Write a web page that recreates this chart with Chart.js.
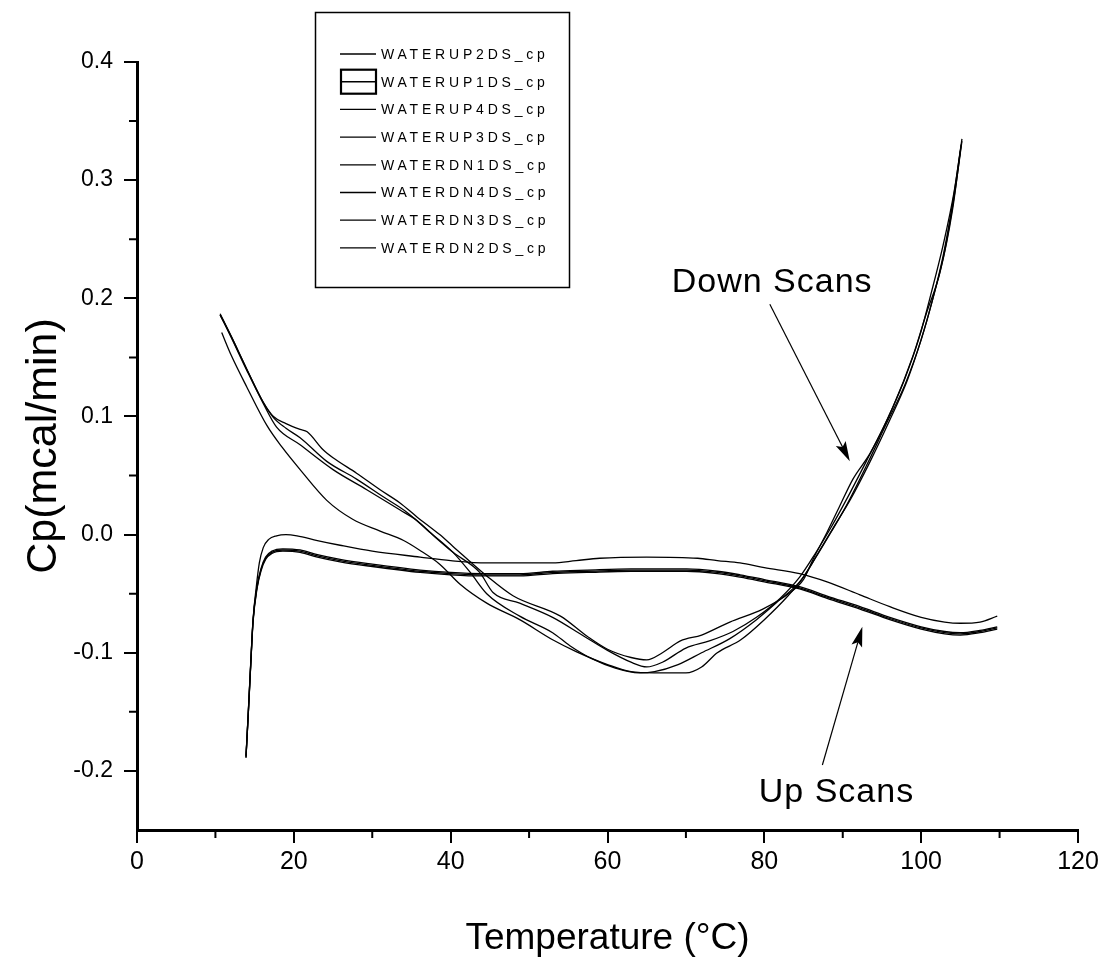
<!DOCTYPE html>
<html>
<head>
<meta charset="utf-8">
<script src="https://cdn.jsdelivr.net/npm/chart.js@4/dist/chart.umd.min.js"></script>
<style>
  html, body { margin: 0; padding: 0; background: #fff; }
  #wrap { width: 1107px; height: 965px; position: relative; }
</style>
</head>
<body>
<div id="wrap"><canvas id="cpChart"></canvas></div>
<script>
(function () {
    'use strict';

    // tick values
    var xMajor = [0, 20, 40, 60, 80, 100, 120];
    var xMinor = [10, 30, 50, 70, 90, 110];
    var yMajor = [-0.2, -0.1, 0.0, 0.1, 0.2, 0.3, 0.4];
    var yMinor = [-0.15, -0.05, 0.05, 0.15, 0.25, 0.35];

    // series, [temperature, Cp]
    var up1 = [[13.9,-0.189],[14.2,-0.150],[14.5,-0.110],[14.8,-0.072],[15.2,-0.045],[15.6,-0.024],[16.1,-0.011],[16.8,-0.004],[17.8,-0.001],[19,0.000],[20.4,-0.001],[23,-0.005],[25.9,-0.009],[30,-0.014],[36.1,-0.019],[40,-0.022],[44.6,-0.024],[48,-0.024],[53,-0.024],[56,-0.022],[59,-0.020],[65,-0.019],[71.5,-0.020],[74,-0.022],[76.9,-0.024],[80,-0.028],[84.5,-0.033],[88,-0.040],[92.2,-0.051],[96,-0.061],[100,-0.070],[103,-0.074],[105,-0.075],[107.5,-0.074],[109.7,-0.069]];
    var up2 = [[13.9,-0.188],[14.2,-0.150],[14.5,-0.110],[14.8,-0.073],[15.3,-0.045],[15.8,-0.030],[16.4,-0.020],[17.2,-0.015],[18.6,-0.013],[20.8,-0.014],[23,-0.018],[25.9,-0.022],[30,-0.026],[36.1,-0.031],[40,-0.033],[44,-0.034],[48.8,-0.034],[53,-0.032],[57.4,-0.031],[63,-0.030],[70.1,-0.030],[74,-0.032],[76.9,-0.035],[80,-0.039],[84.5,-0.045],[88,-0.053],[92.2,-0.062],[96,-0.071],[100,-0.079],[103,-0.083],[105,-0.084],[107.5,-0.082],[109.7,-0.079]];
    var up3 = [[13.9,-0.187],[14.2,-0.149],[14.5,-0.109],[14.8,-0.072],[15.3,-0.044],[15.8,-0.029],[16.4,-0.019],[17.2,-0.014],[18.6,-0.012],[20.8,-0.013],[23,-0.017],[25.9,-0.021],[30,-0.025],[36.1,-0.030],[40,-0.032],[44,-0.033],[48.8,-0.033],[53,-0.031],[57.4,-0.030],[63,-0.029],[70.1,-0.029],[74,-0.031],[76.9,-0.034],[80,-0.038],[84.5,-0.044],[88,-0.052],[92.2,-0.061],[96,-0.070],[100,-0.078],[103,-0.082],[105,-0.083],[107.5,-0.081],[109.7,-0.078]];
    var up4 = [[13.9,-0.188],[14.2,-0.151],[14.5,-0.111],[14.8,-0.074],[15.3,-0.046],[15.8,-0.031],[16.4,-0.021],[17.2,-0.016],[18.6,-0.014],[20.8,-0.015],[23,-0.019],[25.9,-0.023],[30,-0.027],[36.1,-0.032],[40,-0.034],[44,-0.035],[48.8,-0.035],[53,-0.033],[57.4,-0.032],[63,-0.031],[70.1,-0.031],[74,-0.033],[76.9,-0.036],[80,-0.040],[84.5,-0.046],[88,-0.054],[92.2,-0.063],[96,-0.072],[100,-0.080],[103,-0.084],[105,-0.085],[107.5,-0.083],[109.7,-0.080]];

    var dn1 = [[10.8,0.171],[12,0.152],[14,0.125],[16.6,0.092],[18.5,0.074],[20.8,0.055],[24.2,0.029],[27.5,0.013],[31,0.003],[34,-0.005],[36,-0.013],[38.6,-0.025],[41.2,-0.042],[44.6,-0.058],[48.8,-0.072],[53,-0.089],[56,-0.099],[60,-0.110],[63,-0.116],[66,-0.117],[70,-0.117],[72,-0.112],[74,-0.100],[77,-0.089],[80,-0.072],[83,-0.052],[85,-0.036],[87,-0.014],[89,0.008],[91,0.030],[93.5,0.062],[96,0.097],[98.2,0.130],[100,0.165],[101.5,0.200],[102.8,0.236],[104,0.280],[105,0.325]];
    var dn2 = [[10.6,0.186],[12,0.168],[14,0.140],[16.1,0.112],[17.4,0.099],[19,0.090],[20.8,0.082],[24.2,0.062],[28,0.047],[31.4,0.032],[34.4,0.019],[37,0.004],[40.3,-0.015],[42.5,-0.032],[44.6,-0.050],[48.8,-0.069],[53,-0.083],[55.2,-0.094],[58,-0.105],[61,-0.113],[64,-0.117],[66,-0.116],[69,-0.110],[72,-0.100],[75.6,-0.088],[79,-0.072],[82,-0.055],[84.5,-0.040],[86.5,-0.020],[88.5,0.002],[90.5,0.025],[93,0.058],[95.5,0.093],[98,0.128],[100,0.165],[101.5,0.200],[103,0.240],[104.3,0.290],[105.2,0.333]];
    var dn3 = [[10.6,0.187],[12,0.168],[14,0.140],[16.1,0.112],[17.4,0.100],[19,0.094],[20.8,0.089],[21.7,0.087],[23.7,0.072],[25,0.065],[28,0.052],[31,0.038],[33.5,0.027],[35.7,0.015],[38.6,0.000],[40.3,-0.010],[44.6,-0.035],[48,-0.052],[54,-0.069],[57.4,-0.086],[60,-0.097],[63,-0.104],[65,-0.106],[67,-0.100],[69.3,-0.090],[72,-0.085],[75.6,-0.074],[79.8,-0.063],[83.3,-0.049],[85,-0.038],[86.2,-0.021],[88,0.002],[89.6,0.024],[91.3,0.047],[93.5,0.069],[96.4,0.108],[99,0.152],[100.7,0.188],[102.4,0.222],[104,0.275],[105.2,0.335]];
    var dn4 = [[10.6,0.186],[12,0.167],[14,0.139],[16.1,0.111],[17.8,0.091],[20.8,0.076],[25,0.055],[29.3,0.038],[33.5,0.021],[35.7,0.012],[38,-0.002],[40.3,-0.015],[43.7,-0.032],[45.4,-0.049],[48.8,-0.058],[53,-0.070],[57,-0.086],[60,-0.098],[63,-0.108],[65,-0.112],[67,-0.108],[70,-0.096],[73,-0.090],[76,-0.082],[79,-0.070],[82,-0.054],[84.5,-0.036],[86.5,-0.016],[88.5,0.006],[90.5,0.030],[93,0.062],[95.5,0.095],[97.8,0.130],[99.8,0.168],[101.3,0.205],[102.8,0.245],[104.2,0.290],[105.1,0.330]];

    var seriesNames = ['WATERUP2DS_cp', 'WATERUP1DS_cp', 'WATERUP4DS_cp', 'WATERUP3DS_cp',
                       'WATERDN1DS_cp', 'WATERDN4DS_cp', 'WATERDN3DS_cp', 'WATERDN2DS_cp'];
    var seriesData = [up2, up1, up4, up3, dn1, dn4, dn3, dn2];

    var FONT = "'Liberation Sans', Arial, sans-serif";

    function toPoints(arr) {
        return arr.map(function (p) { return { x: p[0], y: p[1] }; });
    }

    // minor ticks, legend box and the two call-outs
    var decorPlugin = {
        id: 'decor',
        afterDraw: function (chart) {
            var ctx = chart.ctx;
            var xs = chart.scales.x, ys = chart.scales.y;
            var area = chart.chartArea;
            ctx.save();
            ctx.strokeStyle = '#000';
            ctx.lineWidth = 2;
            ctx.beginPath();
            xMinor.forEach(function (v) {
                var px = xs.getPixelForValue(v);
                ctx.moveTo(px, area.bottom); ctx.lineTo(px, area.bottom + 8);
            });
            yMinor.forEach(function (v) {
                var py = ys.getPixelForValue(v);
                ctx.moveTo(area.left, py); ctx.lineTo(area.left - 8, py);
            });
            ctx.stroke();

            // legend
            ctx.lineWidth = 1.5;
            ctx.strokeRect(315.5, 12.5, 254, 275);
            ctx.font = '14px ' + FONT;
            ctx.textBaseline = 'middle';
            ctx.textAlign = 'left';
            ctx.fillStyle = '#000';
            try { ctx.letterSpacing = '3.8px'; } catch (e) {}
            seriesNames.forEach(function (name, i) {
                var yy = 54 + i * 27.7;
                if (i === 1) {
                    ctx.lineWidth = 2.2;
                    ctx.strokeRect(341, yy - 12, 35, 24);
                    ctx.lineWidth = 1.5;
                    ctx.beginPath(); ctx.moveTo(341, yy); ctx.lineTo(376, yy); ctx.stroke();
                } else {
                    ctx.lineWidth = 1.3;
                    ctx.beginPath(); ctx.moveTo(340, yy); ctx.lineTo(376, yy); ctx.stroke();
                }
                ctx.fillText(name, 381, yy + 1);
            });
            try { ctx.letterSpacing = '0px'; } catch (e) {}

            // call-outs
            ctx.font = '34px ' + FONT;
            ctx.textAlign = 'center';
            try { ctx.letterSpacing = '1px'; } catch (e) {}
            ctx.fillText('Down Scans', xs.getPixelForValue(81.0), ys.getPixelForValue(0.213));
            ctx.fillText('Up Scans', xs.getPixelForValue(89.2), ys.getPixelForValue(-0.218));
            try { ctx.letterSpacing = '0px'; } catch (e) {}
            drawArrow(ctx, xs.getPixelForValue(80.7), ys.getPixelForValue(0.195),
                           xs.getPixelForValue(90.9), ys.getPixelForValue(0.062));
            drawArrow(ctx, xs.getPixelForValue(87.4), ys.getPixelForValue(-0.195),
                           xs.getPixelForValue(92.5), ys.getPixelForValue(-0.078));
            ctx.restore();
        }
    };

    function drawArrow(ctx, x0, y0, x1, y1) {
        var a = Math.atan2(y1 - y0, x1 - x0);
        var len = 20, half = 5.5;
        ctx.lineWidth = 1.2;
        ctx.beginPath(); ctx.moveTo(x0, y0);
        ctx.lineTo(x1 - Math.cos(a) * len * 0.8, y1 - Math.sin(a) * len * 0.8); ctx.stroke();
        ctx.beginPath();
        ctx.moveTo(x1, y1);
        ctx.lineTo(x1 - Math.cos(a) * len + Math.sin(a) * half, y1 - Math.sin(a) * len - Math.cos(a) * half);
        ctx.lineTo(x1 - Math.cos(a) * len * 0.8, y1 - Math.sin(a) * len * 0.8);
        ctx.lineTo(x1 - Math.cos(a) * len - Math.sin(a) * half, y1 - Math.sin(a) * len + Math.cos(a) * half);
        ctx.closePath();
        ctx.fill();
    }

    var datasets = seriesNames.map(function (name, i) {
        return {
            label: name,
            data: toPoints(seriesData[i]),
            showLine: true,
            borderColor: '#000',
            backgroundColor: '#000',
            borderWidth: 1.3,
            pointRadius: 0,
            cubicInterpolationMode: 'monotone',
            fill: false
        };
    });

    new Chart(document.getElementById('cpChart'), {
        type: 'scatter',
        data: { datasets: datasets },
        plugins: [decorPlugin],
        options: {
            responsive: true,
            maintainAspectRatio: false,
            animation: false,
            layout: { padding: { top: 62, right: 29, left: 0, bottom: 0 } },
            plugins: { legend: { display: false }, tooltip: { enabled: false } },
            scales: {
                x: {
                    type: 'linear', min: 0, max: 120,
                    afterBuildTicks: function (s) { s.ticks = xMajor.map(function (v) { return { value: v }; }); },
                    afterFit: function (s) { s.height = 135; },
                    grid: { display: true, drawOnChartArea: false, drawTicks: true, tickLength: 13, color: '#000', lineWidth: 2 },
                    border: { display: true, color: '#000', width: 3 },
                    ticks: {
                        color: '#000', padding: 4, maxRotation: 0, autoSkip: false,
                        font: { family: "'Liberation Sans Narrow', " + FONT, size: 25 },
                        callback: function (v) { return String(v); }
                    },
                    title: {
                        display: true, text: 'Temperature (°C)', color: '#000',
                        font: { family: FONT, size: 37 }, padding: { top: 0, bottom: 4 }
                    }
                },
                y: {
                    type: 'linear', min: -0.25, max: 0.4,
                    afterBuildTicks: function (s) { s.ticks = yMajor.map(function (v) { return { value: v }; }); },
                    afterFit: function (s) { s.width = 137; },
                    grid: { display: true, drawOnChartArea: false, drawTicks: true, tickLength: 13, color: '#000', lineWidth: 2 },
                    border: { display: true, color: '#000', width: 3 },
                    ticks: {
                        color: '#000', padding: 11, autoSkip: false,
                        font: { family: FONT, size: 23 },
                        callback: function (v) { return Number(v).toFixed(1); }
                    },
                    title: {
                        display: true, text: 'Cp(mcal/min)', color: '#000',
                        font: { family: FONT, size: 43 }, padding: { top: 18, bottom: 0 }
                    }
                }
            }
        }
    });
})();
</script>
</body>
</html>
